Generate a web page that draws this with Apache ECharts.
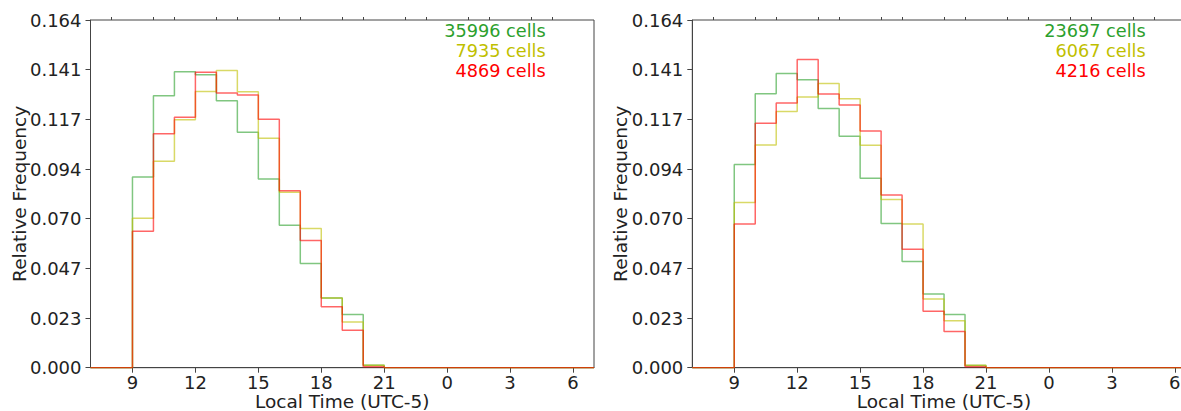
<!DOCTYPE html>
<html>
<head>
<meta charset="utf-8">
<script src="https://cdn.jsdelivr.net/npm/echarts@6/dist/echarts.min.js"></script>
<style>
  html, body { margin: 0; padding: 0; background: #fff; }
  #chart { width: 1181px; height: 411px; }
</style>
</head>
<body>
<div id="chart"></div>
<script>
// hourly bins, local time 7 .. 31 (31 = 7 next day)
const binStart = [7, 8, 9, 10, 11, 12, 13, 14, 15, 16, 17, 18, 19, 20, 21, 22, 23, 24, 25, 26, 27, 28, 29, 30];
const binEnd = 31;
const majorHours = [9, 12, 15, 18, 21, 24, 27, 30];
const minorHours = [8, 10, 11, 13, 14, 16, 17, 19, 20, 22, 23, 25, 26, 28, 29];
const yMax = 0.164;

const leftGreen  = [0, 0, 0.0899, 0.1283, 0.1396, 0.1382, 0.1259, 0.1111, 0.0890, 0.0672, 0.0492, 0.0329, 0.0251, 0.0011, 0, 0, 0, 0, 0, 0, 0, 0, 0, 0];
const leftYellow = [0, 0, 0.0705, 0.0974, 0.1169, 0.1303, 0.1402, 0.1302, 0.1082, 0.0827, 0.0656, 0.0329, 0.0215, 0.0012, 0, 0, 0, 0, 0, 0, 0, 0, 0, 0];
const leftRed    = [0, 0, 0.0644, 0.1104, 0.1181, 0.1393, 0.1296, 0.1286, 0.1172, 0.0835, 0.0600, 0.0287, 0.0177, 0.0005, 0, 0, 0, 0, 0, 0, 0, 0, 0, 0];
const rightGreen  = [0, 0, 0.0959, 0.1292, 0.1388, 0.1358, 0.1222, 0.1092, 0.0894, 0.0680, 0.0501, 0.0348, 0.0251, 0.0010, 0, 0, 0, 0, 0, 0, 0, 0, 0, 0];
const rightYellow = [0, 0, 0.0779, 0.1051, 0.1208, 0.1277, 0.1341, 0.1269, 0.1049, 0.0793, 0.0678, 0.0324, 0.0221, 0.0012, 0, 0, 0, 0, 0, 0, 0, 0, 0, 0];
const rightRed    = [0, 0, 0.0678, 0.1153, 0.1249, 0.1454, 0.1291, 0.1239, 0.1117, 0.0814, 0.0559, 0.0266, 0.0171, 0.0004, 0, 0, 0, 0, 0, 0, 0, 0, 0, 0];

const leftCells = [35996, 7935, 4869];
const rightCells = [23697, 6067, 4216];

const colors = ["#2ca02c", "#bfbf00", "#ff0000"];
const FONT = "DejaVu Sans";
const axisColor = "#444";

function stepData(vals) {
  const pts = [[binStart[0], 0]];
  vals.forEach((v, i) => pts.push([binStart[i], v]));
  pts.push([binEnd, vals[vals.length - 1]]);
  pts.push([binEnd, 0]);
  return pts;
}

const grids = [
  { left: 90.5, top: 20, width: 503.5, height: 347.7 },
  { left: 692.3, top: 20, width: 503.5, height: 347.7 }
];

const xAxis = [], yAxis = [], series = [], graphic = [];
grids.forEach((g, gi) => {
  xAxis.push({
    gridIndex: gi, type: "value", min: 7, max: 31,
    name: "Local Time (UTC-5)", nameLocation: "middle", nameGap: 26, nameMoveOverlap: false,
    nameTextStyle: { fontFamily: FONT, fontSize: 18.5, lineHeight: 16, color: "#222" },
    axisLine: { lineStyle: { color: axisColor, width: 1 } },
    axisTick: { customValues: majorHours, length: 5, lineStyle: { color: axisColor } },
    axisLabel: { customValues: majorHours, formatter: v => String(v % 24), fontFamily: FONT, fontSize: 18, lineHeight: 16, color: "#222", margin: 7 },
    splitLine: { show: false }
  });
  xAxis.push({
    gridIndex: gi, type: "value", min: 7, max: 31,
    axisLine: { show: false },
    axisTick: { customValues: minorHours, length: 3, lineStyle: { color: axisColor } },
    axisLabel: { show: false },
    splitLine: { show: false }
  });
  yAxis.push({
    gridIndex: gi, type: "value", min: 0, max: yMax, interval: yMax / 7,
    name: "Relative Frequency", nameLocation: "middle", nameGap: 62, nameMoveOverlap: false,
    nameTextStyle: { fontFamily: FONT, fontSize: 18.5, color: "#222" },
    axisLine: { show: true, lineStyle: { color: axisColor, width: 1 } },
    axisTick: { show: true, length: 5, lineStyle: { color: axisColor } },
    axisLabel: { formatter: v => v.toFixed(3), fontFamily: FONT, fontSize: 18, color: "#222", margin: 9 },
    splitLine: { show: false }
  });
});

const panels = [
  { vals: [leftGreen, leftYellow, leftRed], cells: leftCells, textX: 545.7 },
  { vals: [rightGreen, rightYellow, rightRed], cells: rightCells, textX: 1145.7 }
];

panels.forEach((p, gi) => {
  p.vals.forEach((vals, si) => {
    series.push({
      type: "line", step: "end", xAxisIndex: gi * 2, yAxisIndex: gi,
      data: stepData(vals), symbol: "none", silent: true,
      lineStyle: { color: colors[si], width: 1.5, opacity: 0.6 }
    });
  });
  p.cells.forEach((c, si) => {
    graphic.push({
      type: "text", x: p.textX, y: 30.7 + si * 20.2,
      style: { text: c + " cells", fill: colors[si], font: `17.7px "${FONT}"`, textAlign: "right", textVerticalAlign: "middle" }
    });
  });
});

const chart = echarts.init(document.getElementById("chart"), null, { renderer: "svg" });
chart.setOption({
  animation: false,
  backgroundColor: "#fff",
  grid: grids.map(g => Object.assign({ show: true, borderColor: axisColor, borderWidth: 1, backgroundColor: "transparent", outerBoundsMode: "none", containLabel: false }, g)),
  xAxis, yAxis, series, graphic
});
</script>
</body>
</html>
